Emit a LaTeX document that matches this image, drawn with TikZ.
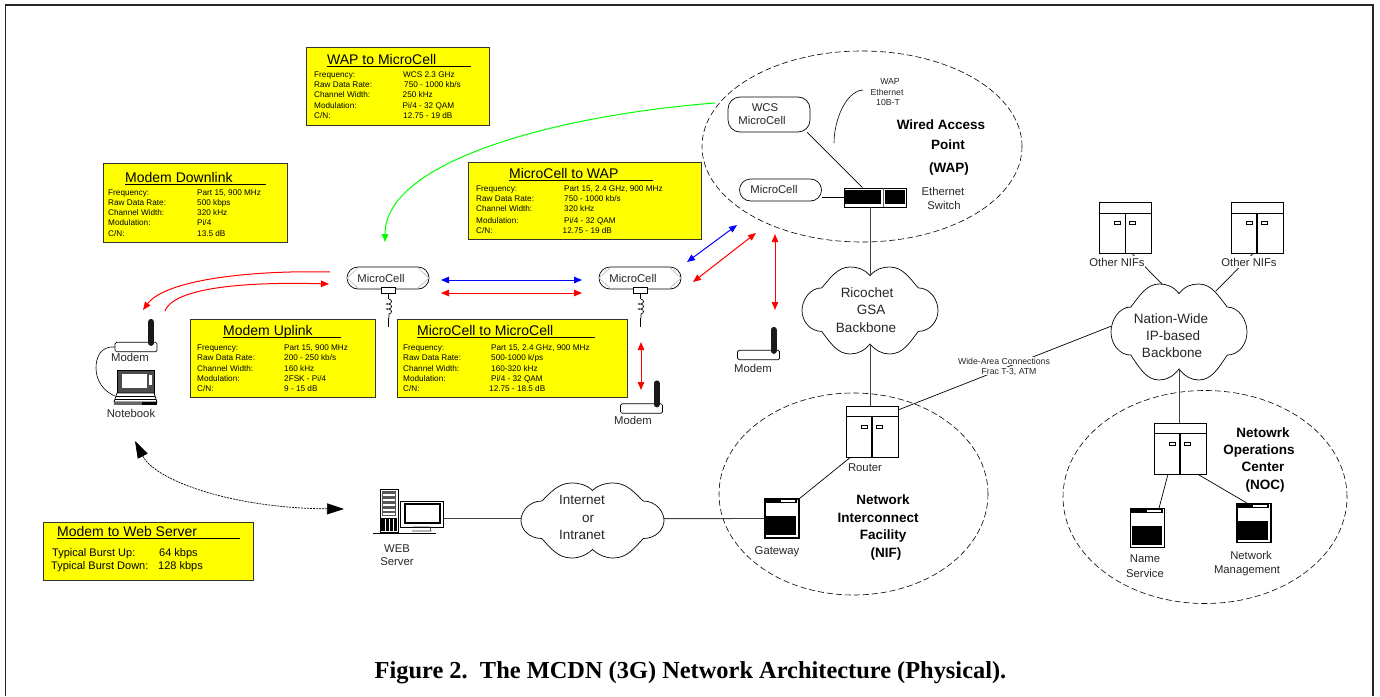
\documentclass[tikz,border=0pt]{standalone}
\usepackage{fontspec}
\setmainfont{Liberation Sans}
\newfontfamily\figcapfont{Liberation Serif}
\usetikzlibrary{arrows}
\usetikzlibrary{arrows.meta}
\usetikzlibrary{decorations.pathmorphing}
\usetikzlibrary{shapes}

\definecolor{boxyellow}{RGB}{255,255,0}
\definecolor{linkgreen}{RGB}{0,255,0}
\definecolor{linkred}{RGB}{255,0,0}
\definecolor{linkblue}{RGB}{0,0,255}

\tikzset{
    txt/.style={inner sep=0, text depth=0pt},
    devlabel/.style={txt, text height=8.1pt, text=black!85, font=\fontsize{11.3}{13}\selectfont},
    cloudlabel/.style={txt, text height=9.7pt, text=black!85, font=\fontsize{13.5}{15}\selectfont},
    boldlabel/.style={txt, text height=9.7pt, font=\fontsize{13.5}{15}\selectfont\bfseries},
    tinylabel/.style={txt, text height=6.3pt, text=black!85, fill=white, inner xsep=1pt, inner ysep=.5pt, font=\fontsize{8.7}{10}\selectfont},
    speclabel/.style={txt, text height=5.9pt, anchor=west, font=\fontsize{8.2}{10}\selectfont},
    bursttext/.style={txt, text height=7.9pt, anchor=west, font=\fontsize{11}{13}\selectfont},
    spectitle/.style={txt, text height=10pt, anchor=west, font=\fontsize{14}{16}\selectfont},
    captiontext/.style={txt, text height=16pt, font=\figcapfont\fontsize{24.4}{27}\selectfont\bfseries},
    specbox/.style={draw=black!80, line width=.9pt, fill=boxyellow, inner sep=0},
    zone/.style={draw, ellipse, inner sep=0, line width=.6pt, dash pattern=on 6pt off 3pt},
    pill/.style={draw, rounded corners=11pt, minimum width=82pt, minimum height=22pt, inner sep=0, line width=.7pt},
    wcspill/.style={draw, rounded corners=12pt, minimum width=82pt, minimum height=35pt, inner sep=0, line width=.7pt},
    rackbox/.style={draw, fill=white, minimum width=52pt, minimum height=51pt, inner sep=0, line width=.9pt},
    stationbox/.style={draw, fill=white, minimum width=34pt, minimum height=39pt, inner sep=0, line width=1.1pt},
    modembody/.style={draw, fill=white, rounded corners=1.5pt, minimum width=42pt, minimum height=9.5pt, inner sep=0, line width=.7pt},
    wire/.style={line width=.7pt},
    trunk/.style={line width=.9pt, black!75},
    redlink/.style={linkred, line width=1pt},
    bluelink/.style={linkblue, line width=1pt},
    >={Triangle[length=8pt,width=6.5pt]},
}

\newcommand{\specrows}[3]{
        \foreach \lab/\val/\vx/\ry [count=\i] in {#3} {
            \draw (#2, \ry) node[speclabel] (#1 lab\i) {\lab};
            \draw (\vx, \ry) node[speclabel] (#1 val\i) {\val};
        }
}
\newcommand{\specbox}[7]{
        \draw (#2) node[specbox, minimum width=#3pt, minimum height=#4pt] (#1) {};
        \draw (#5) node[spectitle] (#1 title) {#6};
        \draw[wire] ([yshift=-7.5pt]#1 title.west) -- ++(#7, 0);
}
\newcommand{\cellnode}[2]{
        \draw (#2) node[pill] (#1) {};
        \draw[black!25, line width=.7pt] ([shift={(-30,-10)}]#1.center) -- ([shift={(-41,0)}]#1.center) -- ([shift={(-30,10)}]#1.center);
        \draw[black!25, line width=.7pt] ([shift={(30,-10)}]#1.center) -- ([shift={(41,0)}]#1.center) -- ([shift={(30,10)}]#1.center);
        \draw ([shift={(-7,0)}]#1.center) node[devlabel] (#1 text) {MicroCell};
        \draw[fill=white, line width=.7pt] ([shift={(-7,9)}]#1.center) rectangle ([shift={(7,15)}]#1.center);
        \draw[line width=.7pt] ([shift={(0,15)}]#1.center) -- ([shift={(0,21)}]#1.center);
        \draw[line width=.7pt, decorate, decoration={coil, aspect=.5, segment length=5pt, amplitude=2.5pt}] ([shift={(1,21)}]#1.center) -- ([shift={(1,40)}]#1.center);
        \draw[line width=.7pt] ([shift={(0,40)}]#1.center) -- ([shift={(0,49)}]#1.center);
}
\newcommand{\racknode}[2]{
        \draw (#2) node[rackbox] (#1) {};
        \draw[line width=.9pt] ([yshift=-11pt]#1.north west) -- ([yshift=-11pt]#1.north east);
        \draw[line width=1.1pt] ([yshift=-11pt]#1.north) -- (#1.south);
        \draw[line width=.6pt] ([shift={(-11,19.5)}]#1.north) rectangle ++(6, 3);
        \draw[line width=.6pt] ([shift={(4,19.5)}]#1.north) rectangle ++(6, 3);
}
\newcommand{\stationnode}[2]{
        \draw (#2) node[stationbox] (#1) {};
        \fill ([shift={(1,1)}]#1.north west) rectangle ([shift={(33,5)}]#1.north west);
        \fill[white] ([shift={(17,2)}]#1.north west) rectangle ([shift={(31,4)}]#1.north west);
        \fill ([shift={(2,18)}]#1.north west) rectangle ([shift={(32,37)}]#1.north west);
}
\newcommand{\modemnode}[2]{
        \draw (#2) node[modembody] (#1) {};
        \draw[line width=6pt, line cap=round, black!90] ([shift={(36.5,1)}]#1.north west) -- ++(0, -21);
}
\newcommand{\netcloud}[4]{
        \begin{scope}[shift={(#2)}, x=#3pt, y=-#4pt]
            \draw[fill=white, line width=.7pt] (0,-.8) .. controls (.08,-.95) and (.18,-1) .. (.29,-1)
                .. controls (.48,-1) and (.58,-.75) .. (.71,-.52)
                .. controls (.88,-.52) and (1,-.25) .. (1,0)
                .. controls (1,.25) and (.88,.48) .. (.71,.48)
                .. controls (.58,.75) and (.48,1) .. (.29,1)
                .. controls (.18,1) and (.08,.92) .. (0,.77)
                .. controls (-.08,.92) and (-.18,1) .. (-.29,1)
                .. controls (-.48,1) and (-.58,.75) .. (-.71,.48)
                .. controls (-.88,.48) and (-1,.25) .. (-1,0)
                .. controls (-1,-.25) and (-.88,-.52) .. (-.71,-.52)
                .. controls (-.58,-.75) and (-.48,-1) .. (-.29,-1)
                .. controls (-.18,-1) and (-.08,-.95) .. (0,-.8) -- cycle;
            \coordinate (#1 top) at (0,-.8);
            \coordinate (#1 bottom) at (0,.77);
            \coordinate (#1 west) at (-1,-.05);
            \coordinate (#1 east) at (1,-.05);
            \coordinate (#1 sidewest) at (-1,-.12);
            \coordinate (#1 nw) at (-.25,-1);
            \coordinate (#1 ne) at (.54,-.85);
        \end{scope}
}

\begin{document}
\begin{tikzpicture}[x=1pt, y=-1pt]
        \useasboundingbox (0,0) rectangle (1380,696);
        \draw[line width=1.7pt, black!85] (5.5,696) -- (5.5,5) -- (1373,5) -- (1373,696);

        \draw (862, 146.5) node[zone, minimum width=320pt, minimum height=191pt] (wapzone) {};
        \draw (853.5, 494) node[zone, minimum width=269pt, minimum height=202pt] (nifzone) {};
        \draw (1205, 497) node[zone, minimum width=284pt, minimum height=213pt] (noczone) {};

        \specbox{waptocell}{398,86}{183}{78}{327,59}{WAP to MicroCell}{144}
        \specrows{waptocell}{314}{Frequency:/WCS 2.3 GHz/403/75, Raw Data Rate:/{750 - 1000 kb/s}/404/85, Channel Width:/250 kHz/402.5/95, Modulation:/{Pi/4 - 32 QAM}/402.5/106, {C/N:}/12.75 - 19 dB/403/116}
        \specbox{downlink}{195,202.5}{184}{79}{125,177}{Modem Downlink}{141}
        \specrows{downlink}{108}{Frequency:/{Part 15, 900 MHz}/197/193, Raw Data Rate:/500 kbps/197/203, Channel Width:/320 kHz/197/213, Modulation:/{Pi/4}/197/223, {C/N:}/13.5 dB/197/234}
        \specbox{celltowap}{584.5,200.5}{233}{77}{509,173}{MicroCell to WAP}{144}
        \specrows{celltowap}{476}{Frequency:/{Part 15, 2.4 GHz, 900 MHz}/564/189, Raw Data Rate:/{750 - 1000 kb/s}/564/199, Channel Width:/320 kHz/564/209, Modulation:/{Pi/4 - 32 QAM}/564/221, {C/N:}/12.75 - 19 dB/562.5/230.5}
        \specbox{uplink}{282.5,358}{185}{78}{223,330}{Modem Uplink}{118}
        \specrows{uplink}{197}{Frequency:/{Part 15, 900 MHz}/284/348, Raw Data Rate:/{200 - 250 kb/s}/284/358, Channel Width:/160 kHz/284/369, Modulation:/{2FSK - Pi/4}/284/379, {C/N:}/9 - 15 dB/284/389}
        \specbox{celltocell}{512,358}{230}{78}{417,330}{MicroCell to MicroCell}{178}
        \specrows{celltocell}{403}{Frequency:/{Part 15, 2.4 GHz, 900 MHz}/491/348, Raw Data Rate:/{500-1000 k/ps}/491/358, Channel Width:/160-320 kHz/491/369, Modulation:/{Pi/4 - 32 QAM}/491/379, {C/N:}/12.75 - 18.5 dB/489/389}
        \specbox{webburst}{148,551}{210}{58}{57,531}{Modem to Web Server}{183}
        \draw (52, 553) node[bursttext] (burstup) {Typical Burst Up:};
        \draw (159, 553) node[bursttext] (burstupval) {64 kbps};
        \draw (51, 566) node[bursttext] (burstdown) {Typical Burst Down:};
        \draw (158, 566) node[bursttext] (burstdownval) {128 kbps};

        \draw (769, 114.5) node[wcspill] (wcscell) {};
        \draw (765, 107) node[devlabel] (wcstext) {WCS};
        \draw (762, 120) node[devlabel] (wcstexttwo) {MicroCell};
        \draw (780.5, 190) node[pill] (wapcell) {};
        \draw (774, 189) node[devlabel] (wapcelltext) {MicroCell};
        \draw (875, 197.5) node[draw, fill=white, minimum width=62pt, minimum height=19pt, inner sep=0, line width=.7pt] (ethswitch) {};
        \fill (845,190) rectangle (881,204);
        \fill (885,190) rectangle (905,204);
        \draw[black!60, line width=.5pt] (883,188) -- (883,207);

        \draw (890, 81) node[tinylabel] (wapline) {WAP};
        \draw (887, 92) node[tinylabel] (ethline) {Ethernet};
        \draw (888, 102) node[tinylabel] (tenbline) {10B-T};
        \coordinate (bracketa) at (863,90);
        \coordinate (bracketb) at (834,143);
        \draw[line width=.6pt] (bracketa) .. controls (846,91) and (834,120) .. (bracketb);
        \draw (941, 125) node[boldlabel] (wiredline) {Wired Access};
        \draw (948, 145) node[boldlabel] (pointline) {Point};
        \draw (949, 168) node[boldlabel] (waptitle) {(WAP)};
        \draw (943, 191) node[devlabel] (ethernetline) {Ethernet};
        \draw (944, 205) node[devlabel] (switchline) {Switch};

        \draw[wire] (wcscell.335) -- (ethswitch.142);
        \draw[wire] (wapcell.east |- ethswitch.west) -- (ethswitch.west);

        \netcloud{ricochet}{870,310.5}{68}{43.5}
        \draw (867, 293) node[cloudlabel] (ricochetline) {Ricochet};
        \draw (871, 310) node[cloudlabel] (gsaline) {GSA};
        \draw (866, 328) node[cloudlabel] (backboneline) {Backbone};
        \netcloud{nation}{1179,332}{68}{48}
        \draw (1171, 319) node[cloudlabel] (nationline) {Nation-Wide};
        \draw (1173, 336) node[cloudlabel] (ipline) {IP-based};
        \draw (1172, 353) node[cloudlabel] (nationbackbone) {Backbone};
        \netcloud{internet}{592.5,520.5}{71.5}{37.5}
        \draw (582, 500) node[cloudlabel] (internetline) {Internet};
        \draw (588, 518) node[cloudlabel] (orline) {or};
        \draw (582, 535) node[cloudlabel] (intranetline) {Intranet};

        \racknode{leftnif}{1125.5,228}
        \racknode{rightnif}{1257,228}
        \racknode{router}{872,431.5}
        \racknode{nocrack}{1180,448.5}
        \stationnode{gateway}{782,518.5}
        \stationnode{nameserv}{1147.5,528}
        \stationnode{netmgmt}{1254,523}

        \coordinate (leftnifdrop) at (1132,253.5);
        \coordinate (rightnifdrop) at (1253,253.5);
        \draw[wire] (leftnifdrop) -- (nation nw);
        \draw[wire] (rightnifdrop) -- (nation ne);
        \draw (1117, 262) node[devlabel, fill=white, inner ysep=1.5pt] (othernifa) {Other NIFs};
        \draw (1249, 262) node[devlabel, fill=white, inner ysep=1.5pt] (othernifb) {Other NIFs};

        \draw[trunk] (ethswitch.south -| ricochet top) -- (ricochet top);
        \draw[trunk] (ricochet bottom) -- (router.north -| ricochet bottom);
        \draw[trunk] (nation bottom) -- (nocrack.north -| nation bottom);
        \coordinate (routerwan) at (898,410);
        \draw[wire] (routerwan) -- (nation sidewest);
        \draw (1004, 361) node[tinylabel] (wideline) {Wide-Area Connections};
        \draw (1009, 371) node[tinylabel] (fracline) {Frac T-3, ATM};
        \draw[wire] (router.230) -- (gateway.north east);
        \draw (865, 467) node[devlabel] (routerlabel) {Router};
        \draw (777, 550) node[devlabel] (gatewaylabel) {Gateway};
        \draw (883, 500) node[boldlabel] (nifline) {Network};
        \draw (878, 518) node[boldlabel] (interline) {Interconnect};
        \draw (883, 535) node[boldlabel] (facilityline) {Facility};
        \draw (886, 553) node[boldlabel] (niftitle) {(NIF)};

        \draw[wire] (nocrack.245) -- (nameserv.60);
        \draw[wire] (nocrack.305) -- (netmgmt.110);
        \draw (1263, 433) node[boldlabel] (netowrkline) {Netowrk};
        \draw (1259, 450) node[boldlabel] (operationsline) {Operations};
        \draw (1263, 467) node[boldlabel] (centerline) {Center};
        \draw (1265, 485) node[boldlabel] (noctitle) {(NOC)};
        \draw (1145, 558) node[devlabel] (nameline) {Name};
        \draw (1145, 573) node[devlabel] (serviceline) {Service};
        \draw (1251, 555) node[devlabel] (networkline) {Network};
        \draw (1247, 569) node[devlabel] (managementline) {Management};

        \cellnode{leftcell}{388,278}
        \cellnode{rightcell}{640,278}
        \modemnode{leftmodem}{136,347}
        \modemnode{lowmodem}{641.5,408.5}
        \modemnode{highmodem}{758.5,355}
        \draw (130, 357) node[devlabel] (leftmodemlabel) {Modem};
        \draw (633, 420) node[devlabel] (lowmodemlabel) {Modem};
        \draw (753, 368) node[devlabel] (highmodemlabel) {Modem};

        \draw (135.5, 381.5) node[draw, fill=black!70, minimum width=37pt, minimum height=23pt, inner sep=0, line width=1pt] (notebook) {};
        \fill[white] (122,374) rectangle (147,388);
        \fill[white] (149,375) rectangle (152,385);
        \draw[fill=white, line width=.7pt] (117,393) -- (154,393) -- (157,402) -- (114,402) -- cycle;
        \draw[line width=.5pt] (116,396) -- (155,396);
        \draw[line width=.5pt] (115,399) -- (156,399);
        \fill[black!60] (114,402) rectangle (142,405);
        \fill (142,402) rectangle (157,405);
        \draw (131, 413) node[devlabel] (notebooklabel) {Notebook};
        \coordinate (cablejoin) at (96,368);
        \coordinate (cableend) at (115,396);
        \draw[line width=.6pt] (leftmodem.west) .. controls (100,346) and (96,358) .. (cablejoin) .. controls (96,382) and (105,392) .. (cableend);

        \draw (389, 510.5) node[draw, fill=white, minimum width=18pt, minimum height=43pt, inner sep=0, line width=1pt] (webtower) {};
        \fill[black!65] (382,491) rectangle (396,516);
        \foreach \slot in {494, 499, 504, 509, 513} {
            \fill[white] (383,\slot) rectangle (395,\slot+2);
        }
        \fill (381,518) rectangle (397,531);
        \foreach \slot in {385, 389, 393} {
            \draw[white, line width=.6pt] (\slot,519) -- (\slot,531);
        }
        \draw (421.5, 514) node[draw, fill=white, minimum width=43pt, minimum height=26pt, inner sep=0, line width=.9pt] (webmonitor) {};
        \draw[line width=1.5pt] (405,504) rectangle (440,523);
        \draw[black!80, line width=.7pt] (413,527) -- (430,527) -- (431,531) -- (412,531);
        \draw[line width=1pt] (373,533) -- (436,533);
        \draw (397, 548) node[devlabel] (webline) {WEB};
        \draw (397, 561) node[devlabel] (serverline) {Server};

        \draw[trunk] (webmonitor.east |- internet west) -- (internet west);
        \draw[trunk] (internet east) -- (gateway.west);

        \coordinate (greenfrom) at (715,103);
        \coordinate (greento) at (385,242);
        \draw[->, linkgreen, line width=1pt] (greenfrom) .. controls (560,115) and (385,160) .. (greento);

        \coordinate (celllinka) at (441,280);
        \coordinate (celllinkb) at (582,280);
        \coordinate (celllinkc) at (441,293);
        \coordinate (celllinkd) at (582,293);
        \draw[<->, bluelink] (celllinka) -- (celllinkb);
        \draw[<->, redlink] (celllinkc) -- (celllinkd);
        \coordinate (waplinka) at (687,262);
        \coordinate (waplinkb) at (737,225);
        \coordinate (waplinkc) at (693,282);
        \coordinate (waplinkd) at (756,233);
        \draw[<->, bluelink] (waplinka) -- (waplinkb);
        \draw[<->, redlink] (waplinkc) -- (waplinkd);
        \coordinate (wapmodemtop) at (775,234);
        \coordinate (wapmodembottom) at (775,310);
        \draw[<->, redlink] (wapmodemtop) -- (wapmodembottom);
        \coordinate (cellmodemtop) at (641,342);
        \coordinate (cellmodembottom) at (641,390);
        \draw[<->, redlink] (cellmodemtop) -- (cellmodembottom);

        \coordinate (downfrom) at (330,272);
        \coordinate (downto) at (143,310);
        \draw[->, redlink] (downfrom) .. controls (250,270) and (165,280) .. (downto);
        \coordinate (upfrom) at (165,311);
        \coordinate (upto) at (329,284);
        \draw[->, redlink] (upfrom) .. controls (175,285) and (260,282) .. (upto);

        \coordinate (webarrowa) at (135,441);
        \coordinate (webarrowb) at (344,509);
        \draw[{Triangle[length=17pt,width=11pt]}-{Triangle[length=17pt,width=11pt]}, line width=.7pt, dash pattern=on 2pt off 1pt] (webarrowa) .. controls (155,480) and (230,508) .. (webarrowb);

        \draw (690.5, 670.5) node[captiontext] (figcaption) {Figure 2.\ \ The MCDN (3G) Network Architecture (Physical).};
\end{tikzpicture}
\end{document}
